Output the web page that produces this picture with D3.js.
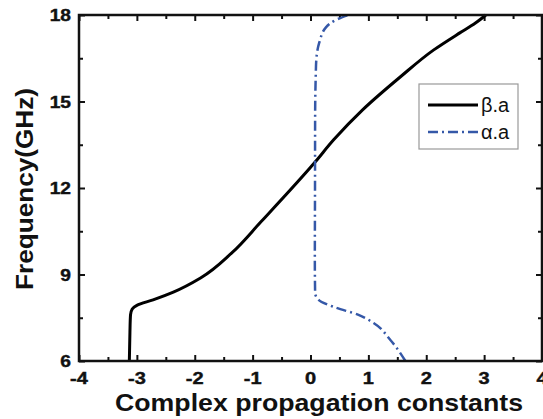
<!DOCTYPE html>
<html>
<head>
<meta charset="utf-8">
<script src="https://cdn.jsdelivr.net/npm/d3@7"></script>
<style>
  body { margin: 0; background: #fff; }
  svg { display: block; font-family: "Liberation Sans", Arial, sans-serif; }
</style>
</head>
<body>
<svg width="543" height="419"></svg>
<script>
var betaFreq = [6.0, 7.0, 7.6, 7.8, 7.93, 8.12, 8.39, 8.88, 9.75, 10.82, 12.9, 13.67, 14.71, 15.85, 16.79, 17.38, 17.72, 18.0];
var betaVals = [-3.13, -3.12, -3.11, -3.08, -3.0, -2.72, -2.37, -1.90, -1.36, -0.86, 0.08, 0.40, 0.90, 1.55, 2.13, 2.58, 2.85, 3.03];

// alpha.a (imaginary part)
var alphaFreq = [6.0, 6.73, 7.32, 7.6, 7.87, 8.12, 8.36, 9.5, 12.0, 14.5, 15.85, 16.44, 17.03, 17.58, 17.83, 18.0];
var alphaVals = [1.64, 1.38, 1.09, 0.83, 0.41, 0.14, 0.08, 0.075, 0.078, 0.08, 0.09, 0.10, 0.15, 0.27, 0.44, 0.65];

var xTicks = [-4, -3, -2, -1, 0, 1, 2, 3, 4];
var yTicks = [6, 9, 12, 15, 18];

var svg = d3.select("svg"),
    margin = {top: 15, right: 1, bottom: 58, left: 79},
    width = +svg.attr("width") - margin.left - margin.right,
    height = +svg.attr("height") - margin.top - margin.bottom;

var g = svg.append("g").attr("transform", "translate(" + margin.left + "," + margin.top + ")");

var x = d3.scaleLinear().domain([-4, 4]).range([0, width]);
var y = d3.scaleLinear().domain([6, 18]).range([height, 0]);

var xMinor = d3.range(-3.5, 4, 1);
var yMinor = d3.range(7.5, 18, 3);

function styleAxis(sel) {
  sel.select(".domain").remove();
  sel.selectAll(".tick line").attr("stroke", "#111").attr("stroke-width", 2);
}

// tick marks, pointing inward, on all four sides
[[d3.axisBottom, x, xTicks, -6, height], [d3.axisTop, x, xTicks, -6, 0],
 [d3.axisBottom, x, xMinor, -4, height], [d3.axisTop, x, xMinor, -4, 0]].forEach(function(a) {
  g.append("g")
      .attr("transform", "translate(0," + a[4] + ")")
      .call(a[0](a[1]).tickValues(a[2]).tickSize(a[3]).tickFormat(""))
      .call(styleAxis);
});
[[d3.axisLeft, yTicks, -6, 0], [d3.axisRight, yTicks, -6, width],
 [d3.axisLeft, yMinor, -4, 0], [d3.axisRight, yMinor, -4, width]].forEach(function(a) {
  g.append("g")
      .attr("transform", "translate(" + a[3] + ",0)")
      .call(a[0](y).tickValues(a[1]).tickSize(a[2]).tickFormat(""))
      .call(styleAxis);
});

// tick labels (bold, slightly wide like the original)
g.append("g").selectAll("text")
  .data(xTicks)
  .enter().append("text")
    .attr("transform", function(d) { return "translate(" + x(d) + "," + (height + 23) + ") scale(1.25,1)"; })
    .attr("text-anchor", "middle")
    .attr("font-size", 16)
    .attr("font-weight", "bold")
    .attr("fill", "#111")
    .attr("stroke", "#111")
    .attr("stroke-width", 0.4)
    .text(function(d) { return String(d); });

g.append("g").selectAll("text")
  .data(yTicks)
  .enter().append("text")
    .attr("transform", function(d) { return "translate(-8," + (y(d) + 6) + ") scale(1.2,1)"; })
    .attr("text-anchor", "end")
    .attr("font-size", 16)
    .attr("font-weight", "bold")
    .attr("fill", "#111")
    .attr("stroke", "#111")
    .attr("stroke-width", 0.4)
    .text(function(d) { return String(d); });

var line = d3.line()
    .x(function(d) { return x(d[0]); })
    .y(function(d) { return y(d[1]); })
    .curve(d3.curveMonotoneY);

g.append("path")
    .datum(d3.zip(betaVals, betaFreq))
    .attr("fill", "none")
    .attr("stroke", "#000")
    .attr("stroke-width", 3)
    .attr("d", line);

g.append("path")
    .datum(d3.zip(alphaVals, alphaFreq))
    .attr("fill", "none")
    .attr("stroke", "#3558a8")
    .attr("stroke-width", 2.5)
    .attr("stroke-dasharray", "10,4,2,4")
    .attr("d", line);

// frame
g.append("rect")
    .attr("width", width)
    .attr("height", height)
    .attr("fill", "none")
    .attr("stroke", "#111")
    .attr("stroke-width", 2.5);

// legend
var lg = g.append("g").attr("transform", "translate(" + (419 - margin.left) + "," + (84 - margin.top) + ")");
lg.append("rect")
    .attr("width", 99).attr("height", 65)
    .attr("fill", "#fff").attr("stroke", "#999").attr("stroke-width", 1.2);
var entries = [
  {label: "\u03b2.a", color: "#000", dash: null, w: 3},
  {label: "\u03b1.a", color: "#3558a8", dash: "10,4,2,4", w: 2.5}
];
entries.forEach(function(e, i) {
  var yy = 21 + i * 27;
  lg.append("line")
      .attr("x1", 9).attr("x2", 59).attr("y1", yy).attr("y2", yy)
      .attr("stroke", e.color).attr("stroke-width", e.w)
      .attr("stroke-dasharray", e.dash);
  lg.append("text")
      .attr("x", 62).attr("y", yy + 7)
      .attr("font-size", 20)
      .attr("fill", "#111")
      .text(e.label);
});

// axis titles
svg.append("text")
    .attr("transform", "translate(33," + (margin.top + height / 2 + 1) + ") rotate(-90)")
    .attr("text-anchor", "middle")
    .attr("font-weight", "bold")
    .attr("font-size", 24)
    .attr("fill", "#111")
    .attr("textLength", 202)
    .attr("lengthAdjust", "spacingAndGlyphs")
    .text("Frequency(GHz)");

svg.append("text")
    .attr("x", 319)
    .attr("y", 411)
    .attr("text-anchor", "middle")
    .attr("font-weight", "bold")
    .attr("font-size", 24)
    .attr("fill", "#111")
    .attr("textLength", 408)
    .attr("lengthAdjust", "spacingAndGlyphs")
    .text("Complex propagation constants");
</script>
</body>
</html>
